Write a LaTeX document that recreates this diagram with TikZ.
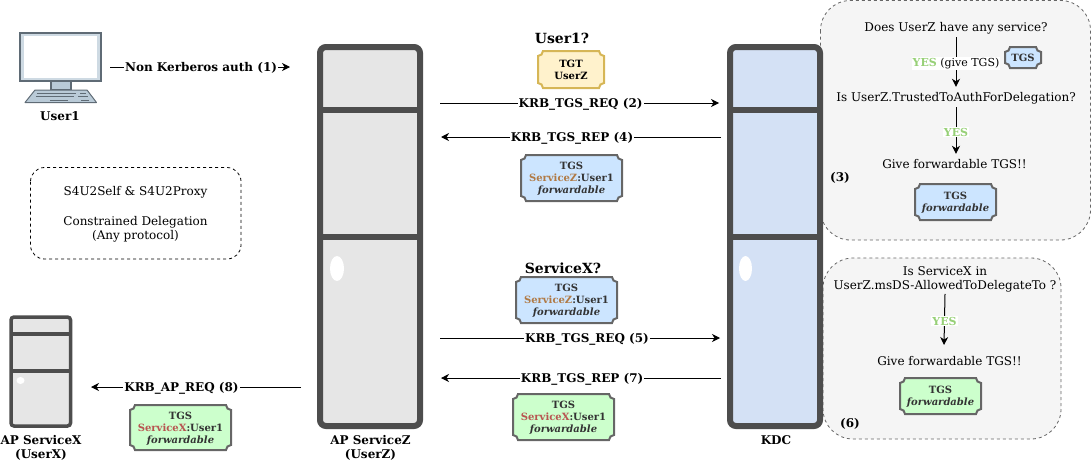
\documentclass[tikz,border=0pt]{standalone}
\usepackage{fontspec}
\setmainfont{DejaVu Serif}
\usetikzlibrary{arrows.meta}
\definecolor{srvline}{HTML}{4D4D4D}
\definecolor{srvgray}{HTML}{E6E6E6}
\definecolor{srvblue}{HTML}{D4E1F5}
\definecolor{tktblue}{HTML}{CCE5FF}
\definecolor{tktgreen}{HTML}{CCFFCC}
\definecolor{tktyellow}{HTML}{FFF2CC}
\definecolor{tktgold}{HTML}{D6B656}
\definecolor{yesgreen}{HTML}{97D077}
\definecolor{svcz}{HTML}{B07A45}
\definecolor{svcx}{HTML}{B85450}
\definecolor{pcline}{HTML}{5F6B75}
\definecolor{pcfill}{HTML}{B9CAD7}
\tikzset{
  srvbox/.style={draw=srvline,line width=6pt,rounded corners=6pt},
  panelbox/.style={draw=#1,dashed,line width=0.8pt},
  msgarrow/.style={line width=1pt,-{Stealth[length=8pt,width=8pt,inset=2.5pt]}},
  msglabel/.style={fill=white,inner sep=1pt,yshift=-1pt,font=\fontsize{12}{14}\selectfont\bfseries},
  headlabel/.style={font=\fontsize{14}{16}\selectfont\bfseries,inner sep=1pt},
  srvlabel/.style={align=center,font=\fontsize{12}{14}\selectfont\bfseries,inner sep=1pt},
  plaintext/.style={align=center,font=\fontsize{12}{14}\selectfont,inner sep=2pt},
  steptext/.style={font=\fontsize{12}{14}\selectfont,text height=10pt,text depth=2pt,inner sep=4pt},
  yeslabel/.style={fill=white,inner sep=1pt,yshift=-1.5pt,font=\fontsize{11}{13}\selectfont\bfseries,text=yesgreen},
  tkttext/.style={align=center,text=black!80,inner sep=0pt,yshift=-0.8pt,font=\fontsize{10}{12}\selectfont\bfseries},
}
\newcommand{\ticket}[7]{%
  \def\hw{#4/2}\def\hh{#5/2}\def\rr{5}\def\kk{2.7}
  \draw[#6,line width=2pt] ({#2-\hw+\rr},{#3-\hh}) -- ({#2+\hw-\rr},{#3-\hh})
    .. controls ({#2+\hw-\rr},{#3-\hh+\kk}) and ({#2+\hw-\kk},{#3-\hh+\rr}) .. ({#2+\hw},{#3-\hh+\rr})
    -- ({#2+\hw},{#3+\hh-\rr})
    .. controls ({#2+\hw-\kk},{#3+\hh-\rr}) and ({#2+\hw-\rr},{#3+\hh-\kk}) .. ({#2+\hw-\rr},{#3+\hh})
    -- ({#2-\hw+\rr},{#3+\hh})
    .. controls ({#2-\hw+\rr},{#3+\hh-\kk}) and ({#2-\hw+\kk},{#3+\hh-\rr}) .. ({#2-\hw},{#3+\hh-\rr})
    -- ({#2-\hw},{#3-\hh+\rr})
    .. controls ({#2-\hw+\kk},{#3-\hh+\rr}) and ({#2-\hw+\rr},{#3-\hh+\kk}) .. ({#2-\hw+\rr},{#3-\hh}) -- cycle;
  \node[tkttext] (#1) at (#2,#3) {#7};
}
\begin{document}
\begin{tikzpicture}[x=1pt,y=-1pt]
  \useasboundingbox (0,0) rectangle (1091,463);

  \draw[panelbox=black,fill=white,rounded corners=14pt] (30.5,167.5) rectangle (241,259);
  \node[plaintext] (s4u) at (135.5,192.5) {S4U2Self \& S4U2Proxy};
  \node[plaintext] (constrained) at (135.5,229) {Constrained Delegation\\(Any protocol)};

  \draw[panelbox=black!60,fill=black!4,rounded corners=30pt] (820.5,0.5) rectangle (1090.5,240);
  \draw[panelbox=black!60,fill=black!4,rounded corners=30pt] (823,258) rectangle (1061,439);

  \draw[pcline,line width=1.5pt,fill=pcfill] (51,81) rectangle (71,90);
  \draw[pcline,line width=1pt,fill=pcfill,line join=round] (35,90) -- (87,90) -- (96.5,102.5) -- (25,102.5) -- cycle;
  \draw[pcline,line width=1pt] (37,93) -- (76,93) (80,93) -- (86,93) (36,96.5) -- (74,96.5) (78,96.5) -- (88,96.5) (50,100) -- (68,100) (81,100) -- (89,100);
  \draw[pcline,line width=2pt,fill=pcfill!70] (20,33) rectangle (100.5,81);
  \fill[white] (23.5,36) rectangle (97,78);

  \draw[srvbox,fill=srvgray] (320,47) rectangle (420,426);
  \draw[srvline,line width=6pt] (320,110) -- (420,110) (320,237) -- (420,237);
  \fill[white] (337,268.5) ellipse (7 and 12.5);

  \draw[srvbox,fill=srvblue] (730,47) rectangle (820,426);
  \draw[srvline,line width=6pt] (730,110) -- (820,110) (730,237) -- (820,237);
  \fill[white] (745.5,268.5) ellipse (6.5 and 12.5);

  \draw[srvline,line width=3.5pt,rounded corners=3pt,fill=srvgray] (11,317) rectangle (70.5,426);
  \draw[srvline,line width=3.5pt] (11,334) -- (70.5,334) (11,371) -- (70.5,371);
  \fill[white] (20.5,380.5) ellipse (4 and 3.5);

  \node[srvlabel] (user1) at (60,116) {User1};
  \node[srvlabel] (apx) at (41,448) {AP ServiceX\\(UserX)};
  \node[srvlabel] (apz) at (370.5,448) {AP ServiceZ\\(UserZ)};
  \node[srvlabel] (kdc) at (776,440) {KDC};

  \coordinate (pcout) at (110,67);
  \coordinate (apzin) at (290,67);
  \coordinate (apzreqa) at (440,103);
  \coordinate (kdcreqa) at (719,103);
  \coordinate (kdcrepa) at (721,137);
  \coordinate (apzrepa) at (441,137);
  \coordinate (apzreqb) at (440,338);
  \coordinate (kdcreqb) at (720,338);
  \coordinate (kdcrepb) at (721,378);
  \coordinate (apzrepb) at (441,378);
  \coordinate (apzout) at (301,387);
  \coordinate (apxin) at (91,387);

  \draw[msgarrow] (pcout) -- node[msglabel,pos=.506] (auth1) {Non Kerberos auth (1)} (apzin);
  \draw[msgarrow] (apzreqa) -- node[msglabel,pos=.504] (req2) {KRB\_TGS\_REQ (2)} (kdcreqa);
  \draw[msgarrow] (kdcrepa) -- node[msglabel,pos=.532] (rep4) {KRB\_TGS\_REP (4)} (apzrepa);
  \draw[msgarrow] (apzreqb) -- node[msglabel,pos=.525] (req5) {KRB\_TGS\_REQ (5)} (kdcreqb);
  \draw[msgarrow] (kdcrepb) -- node[msglabel,pos=.496] (rep7) {KRB\_TGS\_REP (7)} (apzrepb);
  \draw[msgarrow] (apzout) -- node[msglabel,pos=.569] (req8) {KRB\_AP\_REQ (8)} (apxin);

  \node[headlabel] (ask1) at (562,38) {User1?};
  \node[headlabel] (askx) at (563,268) {ServiceX?};

  \ticket{tgtz}{571}{69.5}{66}{37}{draw=tktgold,fill=tktyellow}{\textcolor{black}{TGT}\\\textcolor{black}{UserZ}}
  \ticket{tgsa}{571.5}{178}{101}{46}{draw=black!60,fill=tktblue}{TGS\\\textcolor{svcz}{ServiceZ}:User1\\\textit{forwardable}}
  \ticket{tgsb}{566.5}{300}{101}{46}{draw=black!60,fill=tktblue}{TGS\\\textcolor{svcz}{ServiceZ}:User1\\\textit{forwardable}}
  \ticket{tgsc}{563.5}{417}{101}{46}{draw=black!60,fill=tktgreen}{TGS\\\textcolor{svcx}{ServiceX}:User1\\\textit{forwardable}}
  \ticket{tgsd}{180.5}{427.5}{101}{45}{draw=black!60,fill=tktgreen}{TGS\\\textcolor{svcx}{ServiceX}:User1\\\textit{forwardable}}
  \ticket{tgssmall}{1023}{57.5}{36}{21}{draw=black!60,fill=tktblue}{TGS}
  \ticket{tgsself}{955.5}{202}{81}{36}{draw=black!60,fill=tktblue}{TGS\\\textit{forwardable}}
  \ticket{tgsproxy}{940.5}{396}{81}{36}{draw=black!60,fill=tktgreen}{TGS\\\textit{forwardable}}

  \node[steptext] (hasservice) at (956,27) {Does UserZ have any service?};
  \node[steptext] (trusted) at (956,97) {Is UserZ.TrustedToAuthForDelegation?};
  \node[steptext] (givea) at (954.5,164) {Give forwardable TGS!!};
  \node[srvlabel] (three) at (840,178) {(3)};
  \draw[msgarrow] (hasservice.south -| trusted) -- node[fill=white,inner sep=1pt,yshift=-1.5pt,font=\fontsize{11}{13}\selectfont] (yesa) {\textcolor{yesgreen}{\bfseries YES} (give TGS)} (trusted.north);
  \draw[msgarrow] (trusted.south) -- node[yeslabel] (yesb) {YES} (trusted.south |- givea.north);

  \node[plaintext] (allowed) at (945,279) {Is ServiceX in\\UserZ.msDS-AllowedToDelegateTo ?};
  \node[steptext] (giveb) at (949.5,361) {Give forwardable TGS!!};
  \node[srvlabel] (six) at (850,424) {(6)};
  \coordinate (giveend) at (944,345);
  \draw[msgarrow] (allowed.south) -- node[yeslabel] (yesc) {YES} (giveend);
\end{tikzpicture}
\end{document}
